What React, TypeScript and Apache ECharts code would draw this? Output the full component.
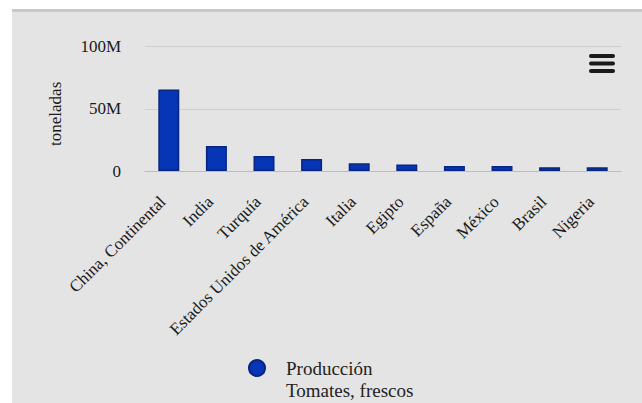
import React, { useEffect, useRef } from "react";
import * as echarts from "echarts";

const countries = [
  "China, Continental",
  "India",
  "Turquía",
  "Estados Unidos de América",
  "Italia",
  "Egipto",
  "España",
  "México",
  "Brasil",
  "Nigeria",
];
const produccion = [65.6e6, 20.2e6, 12.1e6, 9.7e6, 6.2e6, 5.2e6, 4.0e6, 4.0e6, 3.0e6, 3.0e6];
const seriesName = "Producción\nTomates, frescos";
const yTitle = "toneladas";

const SERIF = "'Liberation Serif', 'Times New Roman', serif";

export default function App() {
  const ref = useRef<HTMLDivElement>(null);
  useEffect(() => {
    if (!ref.current) return;
    const chart = echarts.init(ref.current, null, { renderer: "svg" });
    chart.setOption({
      animation: false,
      backgroundColor: "#ffffff",
      graphic: [
        { type: "rect", z: -100, shape: { x: 12, y: 12, width: 630, height: 391 }, style: { fill: "#e4e4e4" } },
        { type: "rect", z: -100, shape: { x: 12, y: 9, width: 630, height: 3 }, style: { fill: "#c9c9c9" } },
        { type: "line", shape: { x1: 591, y1: 56, x2: 613, y2: 56 }, style: { stroke: "#1a1a1a", lineWidth: 4, lineCap: "round" } },
        { type: "line", shape: { x1: 591, y1: 63.5, x2: 613, y2: 63.5 }, style: { stroke: "#1a1a1a", lineWidth: 4, lineCap: "round" } },
        { type: "line", shape: { x1: 591, y1: 71, x2: 613, y2: 71 }, style: { stroke: "#1a1a1a", lineWidth: 4, lineCap: "round" } },
      ],
      grid: { left: 145, right: 21, top: 46.7, bottom: 232, containLabel: false },
      legend: {
        data: [seriesName],
        left: 248,
        top: 335,
        padding: 0,
        icon: "circle",
        itemWidth: 48,
        itemHeight: 16,
        selectedMode: false,
        formatter: (name: string) => "\n" + name,
        textStyle: {
          fontFamily: SERIF,
          fontSize: 19,
          color: "#222",
          lineHeight: 22,
        },
      },
      xAxis: {
        type: "category",
        data: countries,
        axisLine: { lineStyle: { color: "#bcbcbc" } },
        axisTick: { length: 9, lineStyle: { color: "#bcbcbc" } },
        axisLabel: {
          rotate: 45,
          margin: 34,
          interval: 0,
          verticalAlign: "bottom",
          fontFamily: SERIF,
          fontSize: 17,
          color: "#1a1a1a",
        },
      },
      yAxis: {
        type: "value",
        min: 0,
        max: 100e6,
        interval: 50e6,
        name: yTitle,
        nameLocation: "middle",
        nameGap: 81,
        nameTextStyle: { fontFamily: SERIF, fontSize: 17, color: "#1a1a1a", padding: [0, 10, 0, 0] },
        axisLine: { show: false },
        axisTick: { show: false },
        splitLine: { lineStyle: { color: "#cfcfcf" } },
        axisLabel: {
          margin: 24,
          fontFamily: SERIF,
          fontSize: 17,
          color: "#1a1a1a",
          formatter: (v: number) => (v === 0 ? "0" : v / 1e6 + "M"),
        },
      },
      series: [
        {
          name: seriesName,
          type: "bar",
          data: produccion,
          barWidth: 21,
          itemStyle: { color: "#0635b5", borderColor: "#0a2580", borderWidth: 1.5 },
        },
      ],
    });
    return () => chart.dispose();
  }, []);
  return <div ref={ref} style={{ position: "absolute", left: 0, top: 0, width: 642, height: 403 }} />;
}
